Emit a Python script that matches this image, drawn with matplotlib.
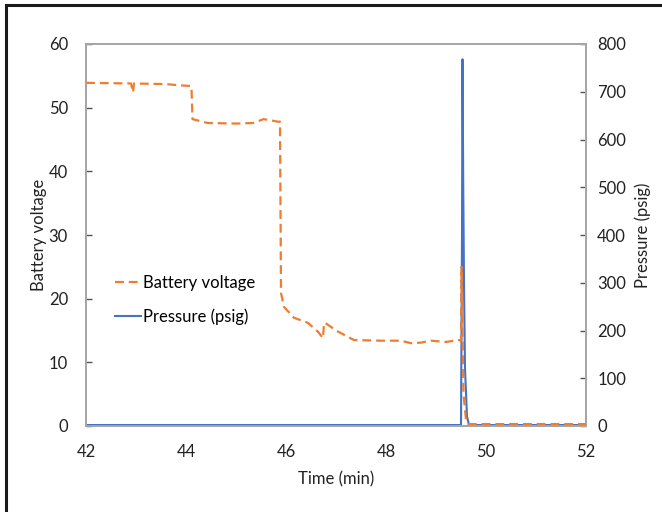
import matplotlib
matplotlib.use("Agg")
import matplotlib.pyplot as plt
from matplotlib.lines import Line2D

plt.rcParams['font.family'] = ['Lato', 'DejaVu Sans']

# Battery voltage series (time in min, volts)
volt_time = [42.0, 42.9, 42.94, 42.96, 43.6, 43.9, 44.1, 44.11, 44.13, 44.43, 45.0,
             45.35, 45.55, 45.7, 45.84, 45.88, 45.9, 45.96, 46.16, 46.44, 46.64,
             46.74, 46.76, 46.82, 47.0, 47.36, 47.9, 48.3, 48.5, 48.7, 48.9,
             49.2, 49.45, 49.5, 49.51, 49.55, 49.6, 49.65, 52.0]
volt_vals = [53.9, 53.8, 52.4, 53.8, 53.7, 53.5, 53.4, 53.1, 48.2, 47.6, 47.5,
             47.6, 48.2, 48.0, 47.8, 47.8, 20.9, 18.7, 17.0, 16.2, 14.8,
             13.8, 16.2, 16.0, 15.0, 13.5, 13.4, 13.4, 13.0, 13.1, 13.4,
             13.2, 13.5, 13.4, 25.0, 5.0, 1.0, 0.3, 0.3]

# Pressure series (time in min, psig)
pres_time = [42.0, 49.49, 49.50, 49.52, 49.53, 49.545, 49.56, 49.58, 49.62, 49.66, 52.0]
pres_vals = [2, 2, 2, 400, 768, 500, 300, 120, 20, 2, 2]

x_ticks = [42, 44, 46, 48, 50, 52]
left_ticks = [0, 10, 20, 30, 40, 50, 60]
right_ticks = [0, 100, 200, 300, 400, 500, 600, 700, 800]

fig = plt.figure(figsize=(6.62, 5.12), dpi=100)
ax = fig.add_axes([86/662, 86/512, 500/662, 382/512])
ax2 = ax.twinx()

orange = '#ED7D31'
blue = '#4472C4'
spine_c = '#A6A6A6'

l1, = ax.plot(volt_time, volt_vals, color=orange, lw=1.6, dashes=(4, 2.2),
              label='Battery voltage', zorder=3)
l2, = ax2.plot(pres_time, pres_vals, color=blue, lw=1.5, label='Pressure (psig)')
ax.set_zorder(ax2.get_zorder() + 1)
ax.patch.set_visible(False)

ax.set_xlim(42, 52)
ax.set_ylim(0, 60)
ax2.set_ylim(0, 800)
ax.set_xticks(x_ticks)
ax.set_yticks(left_ticks)
ax2.set_yticks(right_ticks)

for a in (ax, ax2):
    for s in a.spines.values():
        s.set_color(spine_c)
        s.set_linewidth(1.3)

ax.tick_params(axis='x', length=0, pad=13, labelsize=12, colors='#222222')
ax.tick_params(axis='y', direction='in', length=4, width=1, color='#555555',
               pad=13, labelsize=12, labelcolor='#222222')
ax2.tick_params(axis='y', direction='in', length=4, width=1, color='#555555',
                pad=8, labelsize=12, labelcolor='#222222')

ax.set_xlabel('Time (min)', fontsize=12, labelpad=8, color='#222222')
ax.set_ylabel('Battery voltage', fontsize=12, labelpad=1, color='#222222')
ax2.set_ylabel('Pressure (psig)', fontsize=12, labelpad=6, color='#222222')

leg = ax.legend(handles=[l1, l2], loc='center left', bbox_to_anchor=(0.027, 0.33),
                frameon=False, fontsize=12, handlelength=1.6, handletextpad=0.1,
                labelspacing=1.05)

# outer frame (left and top edges)
fig.add_artist(Line2D([6/662, 6/662], [0, 1 - 5/512], transform=fig.transFigure,
                      color='#1a1a1a', lw=2.2))
fig.add_artist(Line2D([6/662, 1], [1 - 5/512, 1 - 5/512], transform=fig.transFigure,
                      color='#1a1a1a', lw=2.2))

fig.savefig('out.png', dpi=100)
